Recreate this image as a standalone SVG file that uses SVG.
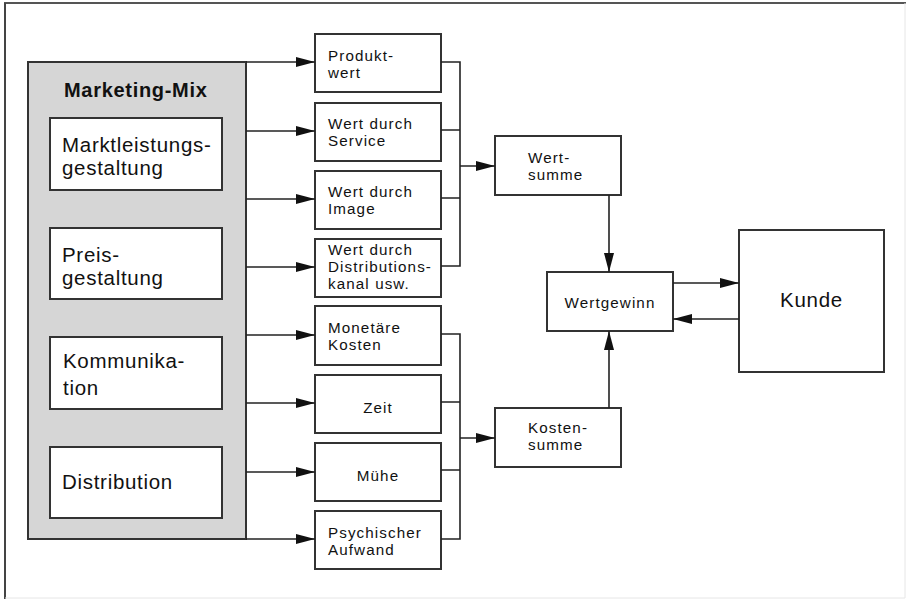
<svg xmlns="http://www.w3.org/2000/svg" width="906" height="599" viewBox="0 0 906 599">
<style>
.box{fill:#fff;stroke:#333;stroke-width:2}
.gray{fill:#d6d6d6;stroke:#333;stroke-width:2}
.big{font-family:"Liberation Sans",Arial,sans-serif;font-size:20.5px;letter-spacing:0.7px;fill:#111}
.sm{font-family:"Liberation Sans",Arial,sans-serif;font-size:15.2px;letter-spacing:1.1px;fill:#111}
.bold{font-family:"Liberation Sans",Arial,sans-serif;font-size:20px;letter-spacing:0.7px;font-weight:bold;fill:#111}
.c{text-anchor:middle}
.ln{fill:none;stroke:#222;stroke-width:1.6}
</style>
<defs>
<marker id="ah" markerUnits="userSpaceOnUse" markerWidth="20" markerHeight="12" refX="19" refY="5" orient="auto">
<path d="M0,0 L19,5 L0,10 Z" fill="#111"/>
</marker>
</defs>
<rect width="906" height="599" fill="#fff"/>
<g id="frame">
<line x1="4" y1="3" x2="906" y2="3" stroke="#555" stroke-width="2"/>
<line x1="5" y1="3" x2="5" y2="599" stroke="#444" stroke-width="2"/>
<line x1="905" y1="3" x2="905" y2="598" stroke="#e6e6e6" stroke-width="1"/>
<line x1="5" y1="598" x2="905" y2="598" stroke="#e6e6e6" stroke-width="1"/>
</g>
<g id="marketing-mix">
<rect class="gray" x="28" y="62" width="218" height="477"/>
<text class="bold" x="64" y="97">Marketing-Mix</text>
</g>
<g id="marktleistung">
<rect class="box" x="50" y="118" width="172" height="72"/>
<text class="big" x="62" y="152">Marktleistungs-</text>
<text class="big" x="62" y="175">gestaltung</text>
</g>
<g id="preis">
<rect class="box" x="50" y="228" width="172" height="71"/>
<text class="big" x="62" y="262">Preis-</text>
<text class="big" x="62" y="285">gestaltung</text>
</g>
<g id="kommunikation">
<rect class="box" x="50" y="337" width="172" height="72"/>
<text class="big" x="63" y="368">Kommunika-</text>
<text class="big" x="63" y="395">tion</text>
</g>
<g id="distribution">
<rect class="box" x="50" y="447" width="172" height="71"/>
<text class="big" x="62" y="489">Distribution</text>
</g>
<g id="produktwert">
<rect class="box" x="315" y="34" width="126" height="58"/>
<text class="sm" x="328" y="61">Produkt-</text>
<text class="sm" x="328" y="78">wert</text>
</g>
<g id="service">
<rect class="box" x="315" y="103" width="126" height="58"/>
<text class="sm" x="328" y="129">Wert durch</text>
<text class="sm" x="328" y="146">Service</text>
</g>
<g id="image">
<rect class="box" x="315" y="171" width="126" height="58"/>
<text class="sm" x="328" y="197">Wert durch</text>
<text class="sm" x="328" y="214">Image</text>
</g>
<g id="distributionskanal">
<rect class="box" x="315" y="239" width="126" height="58"/>
<text class="sm" x="328" y="255">Wert durch</text>
<text class="sm" x="328" y="272">Distributions-</text>
<text class="sm" x="328" y="289">kanal usw.</text>
</g>
<g id="monetaer">
<rect class="box" x="315" y="306" width="126" height="59"/>
<text class="sm" x="328" y="333">Monetäre</text>
<text class="sm" x="328" y="350">Kosten</text>
</g>
<g id="zeit">
<rect class="box" x="315" y="375" width="126" height="58"/>
<text class="sm c" x="378" y="413">Zeit</text>
</g>
<g id="muehe">
<rect class="box" x="315" y="443" width="126" height="58"/>
<text class="sm c" x="378" y="481">Mühe</text>
</g>
<g id="psychisch">
<rect class="box" x="315" y="511" width="126" height="58"/>
<text class="sm" x="328" y="538">Psychischer</text>
<text class="sm" x="328" y="555">Aufwand</text>
</g>
<g id="wertsumme">
<rect class="box" x="495" y="136" width="126" height="59"/>
<text class="sm" x="528" y="163">Wert-</text>
<text class="sm" x="528" y="180">summe</text>
</g>
<g id="kostensumme">
<rect class="box" x="495" y="408" width="126" height="59"/>
<text class="sm" x="528" y="433">Kosten-</text>
<text class="sm" x="528" y="450">summe</text>
</g>
<g id="wertgewinn">
<rect class="box" x="547" y="272" width="126" height="59"/>
<text class="sm c" x="610" y="308">Wertgewinn</text>
</g>
<g id="kunde">
<rect class="box" x="739" y="230" width="145" height="142"/>
<text class="big c" x="811.5" y="307">Kunde</text>
</g>
<g id="connectors">
<line class="ln" x1="246" y1="62" x2="315" y2="62" marker-end="url(#ah)"/>
<line class="ln" x1="246" y1="131" x2="315" y2="131" marker-end="url(#ah)"/>
<line class="ln" x1="246" y1="199" x2="315" y2="199" marker-end="url(#ah)"/>
<line class="ln" x1="246" y1="267" x2="315" y2="267" marker-end="url(#ah)"/>
<line class="ln" x1="246" y1="335" x2="315" y2="335" marker-end="url(#ah)"/>
<line class="ln" x1="246" y1="403" x2="315" y2="403" marker-end="url(#ah)"/>
<line class="ln" x1="246" y1="472" x2="315" y2="472" marker-end="url(#ah)"/>
<line class="ln" x1="246" y1="539" x2="315" y2="539" marker-end="url(#ah)"/>
<path class="ln" d="M441,62 H460 V266 H441 M441,130 H460 M441,198 H460"/>
<line class="ln" x1="460" y1="166" x2="495" y2="166" marker-end="url(#ah)"/>
<path class="ln" d="M441,334 H460 V539 H441 M441,402 H460 M441,470 H460"/>
<line class="ln" x1="460" y1="438" x2="495" y2="438" marker-end="url(#ah)"/>
<line class="ln" x1="609" y1="195" x2="609" y2="272" marker-end="url(#ah)"/>
<line class="ln" x1="609" y1="408" x2="609" y2="331" marker-end="url(#ah)"/>
<line class="ln" x1="673" y1="283" x2="739" y2="283" marker-end="url(#ah)"/>
<line class="ln" x1="739" y1="319" x2="673" y2="319" marker-end="url(#ah)"/>
</g>
</svg>
